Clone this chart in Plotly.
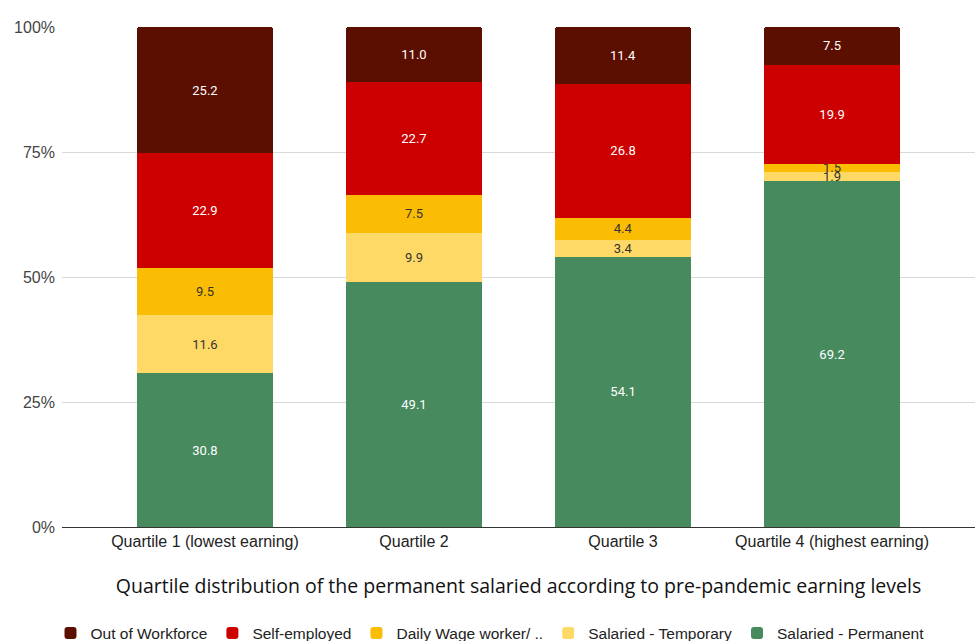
import plotly.graph_objects as go

categories = ["Quartile 1 (lowest earning)", "Quartile 2", "Quartile 3", "Quartile 4 (highest earning)"]
salaried_permanent = [30.8, 49.1, 54.1, 69.2]
salaried_temporary = [11.6, 9.9, 3.4, 1.9]
daily_wage = [9.5, 7.5, 4.4, 1.5]
self_employed = [22.9, 22.7, 26.8, 19.9]
out_of_workforce = [25.2, 11.0, 11.4, 7.5]
y_ticks = [0, 25, 50, 75, 100]
y_tick_labels = ["0%", "25%", "50%", "75%", "100%"]

series = [
    ("Salaried - Permanent", salaried_permanent, "#468a5d", "#ffffff"),
    ("Salaried - Temporary", salaried_temporary, "#ffd966", "#333333"),
    ("Daily Wage worker/ ..", daily_wage, "#fbbc04", "#333333"),
    ("Self-employed", self_employed, "#cc0000", "#ffffff"),
    ("Out of Workforce", out_of_workforce, "#5b0f00", "#ffffff"),
]

fig = go.Figure()
for name, vals, color, tcolor in series:
    fig.add_trace(go.Bar(
        x=categories, y=vals, name=name,
        marker=dict(color=color, line=dict(width=0)),
        text=[f"{v:.1f}" for v in vals],
        textposition="inside", insidetextanchor="middle",
        textangle=0, constraintext="none",
        textfont=dict(family="Roboto, Arial, sans-serif", size=13, color=tcolor),
        width=0.65,
        hoverinfo="skip",
    ))

fig.update_layout(
    barmode="stack",
    barnorm="percent",
    width=980, height=641,
    margin=dict(l=62, r=5, t=27, b=114, autoexpand=False),
    plot_bgcolor="white", paper_bgcolor="white",
    legend=dict(
        orientation="h", traceorder="reversed",
        xref="container", yref="container",
        x=0.5, xanchor="center", y=0.012, yanchor="middle",
        font=dict(family="Liberation Sans, Arial, sans-serif", size=15.5, color="#222222"),
        itemwidth=30, tracegroupgap=0,
    ),
    xaxis=dict(
        range=[-0.684, 3.684],
        showline=True, linecolor="#333333", linewidth=1,
        tickfont=dict(family="Liberation Sans, Arial, sans-serif", size=16, color="#222222"),
        title=dict(text="Quartile distribution of the permanent salaried according to pre-pandemic earning levels",
                   font=dict(family="Open Sans, sans-serif", size=19.5, color="#111111"), standoff=30),
        ticks="", automargin=False,
    ),
    yaxis=dict(
        range=[0, 100], tickmode="array", tickvals=y_ticks, ticktext=y_tick_labels,
        gridcolor="#d9d9d9", zeroline=False,
        tickfont=dict(family="Liberation Sans, Arial, sans-serif", size=16, color="#444444"),
        ticks="", automargin=False, ticklabelstandoff=6,
    ),
    barcornerradius=3,
)

fig.write_html("out.html")
